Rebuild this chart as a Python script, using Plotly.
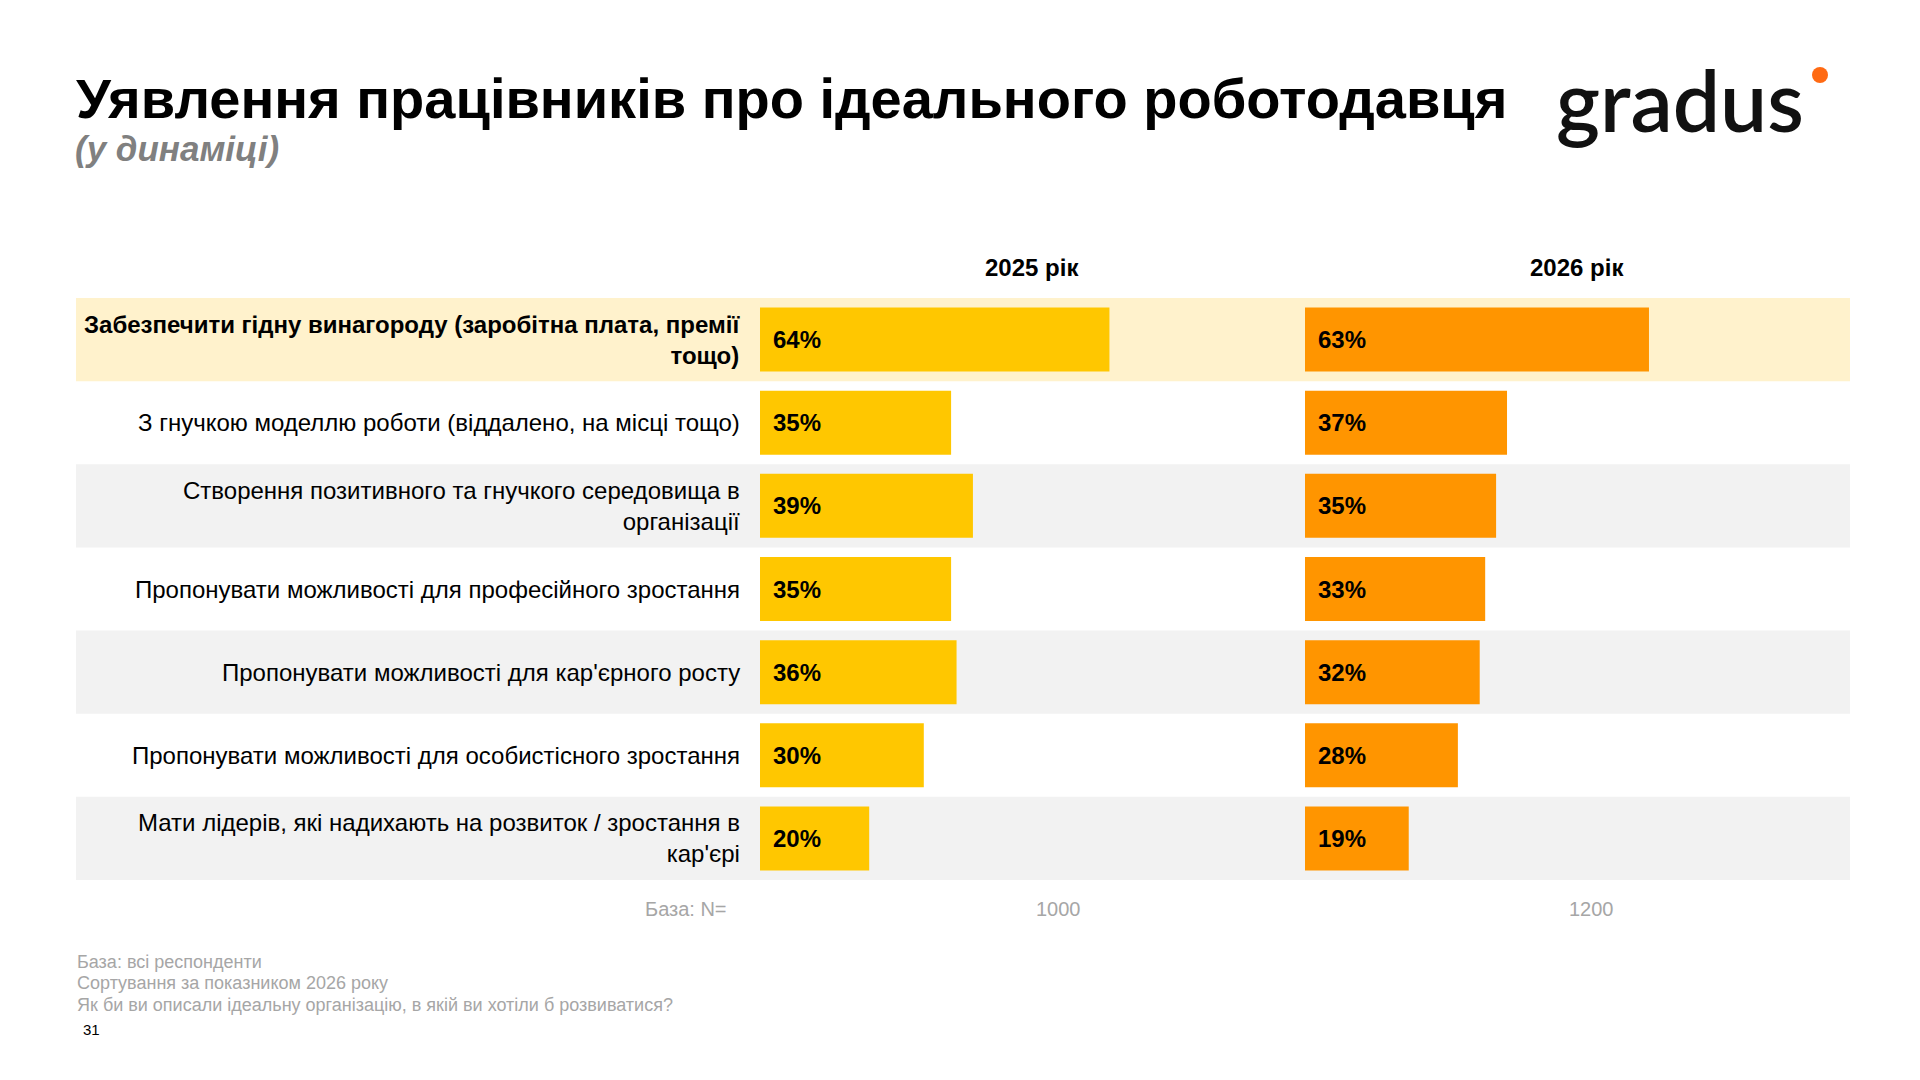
import plotly.graph_objects as go

# ---- data ----
categories = [
    "Забезпечити гідну винагороду (заробітна плата, премії<br>тощо)",
    "З гнучкою моделлю роботи (віддалено, на місці тощо)",
    "Створення позитивного та гнучкого середовища в<br>організації",
    "Пропонувати можливості для професійного зростання",
    "Пропонувати можливості для кар'єрного росту",
    "Пропонувати можливості для особистісного зростання",
    "Мати лідерів, які надихають на розвиток / зростання в<br>кар'єрі",
]
values_2025 = [64, 35, 39, 35, 36, 30, 20]
values_2026 = [63, 37, 35, 33, 32, 28, 19]
years = ["2025 рік", "2026 рік"]
base_n = ["1000", "1200"]
footnotes = [
    "База: всі респонденти",
    "Сортування за показником 2026 року",
    "Як би ви описали ідеальну організацію, в якій ви хотіли б розвиватися?",
]

W, H = 1920, 1080
FONT = "Liberation Sans, Arial, sans-serif"
YELLOW = "#FFC700"
ORANGE = "#FF9500"
HILITE = "#FFF2CC"
GRAY_BAND = "#F2F2F2"

def px(x):
    return x / W

def py(y):
    return 1 - y / H

SCALE = 5.46  # px per percent
ypos = list(range(len(categories)))

fig = go.Figure()
fig.add_trace(go.Bar(x=values_2025, y=ypos, orientation="h", width=0.77,
                     marker=dict(color=YELLOW, line=dict(width=0)),
                     xaxis="x", yaxis="y", hoverinfo="skip", showlegend=False))
fig.add_trace(go.Bar(x=values_2026, y=ypos, orientation="h", width=0.77,
                     marker=dict(color=ORANGE, line=dict(width=0)),
                     xaxis="x2", yaxis="y", hoverinfo="skip", showlegend=False))

shapes = []
for i in ypos:
    if i == 0:
        col = HILITE
    elif i % 2 == 0:
        col = GRAY_BAND
    else:
        col = None
    if col:
        shapes.append(dict(type="rect", xref="paper", yref="y",
                           x0=px(76), x1=px(1850), y0=i - 0.5, y1=i + 0.5,
                           fillcolor=col, line=dict(width=0), layer="below"))

# logo dot
shapes.append(dict(type="circle", xref="paper", yref="paper",
                   x0=px(1812), x1=px(1828), y0=py(83), y1=py(67),
                   fillcolor="#FF6A13", line=dict(width=0)))

ann = []
# row labels
for i, lab in enumerate(categories):
    text = f"<b>{lab}</b>" if i == 0 else lab
    ann.append(dict(x=px(742), xref="paper", y=i, yref="y", text=text,
                    xanchor="right", yanchor="middle", align="right",
                    showarrow=False, font=dict(family=FONT, size=24, color="#000000")))
# value labels
for i, v in enumerate(values_2025):
    ann.append(dict(x=0, xref="x", y=i, yref="y", text=f"<b>{v}%</b>", xshift=11,
                    xanchor="left", yanchor="middle", showarrow=False,
                    font=dict(family=FONT, size=24, color="#000000")))
for i, v in enumerate(values_2026):
    ann.append(dict(x=0, xref="x2", y=i, yref="y", text=f"<b>{v}%</b>", xshift=11,
                    xanchor="left", yanchor="middle", showarrow=False,
                    font=dict(family=FONT, size=24, color="#000000")))
# headers
for xc, t in zip([1032, 1577], years):
    ann.append(dict(x=px(xc), xref="paper", y=py(268), yref="paper", text=f"<b>{t}</b>",
                    xanchor="center", yanchor="middle", showarrow=False,
                    font=dict(family=FONT, size=24, color="#000000")))
# base N
ann.append(dict(x=px(729), xref="paper", y=py(909), yref="paper", text="База: N=",
                xanchor="right", yanchor="middle", showarrow=False,
                font=dict(family=FONT, size=20, color="#A6A6A6")))
for xc, t in zip([1058, 1591], base_n):
    ann.append(dict(x=px(xc), xref="paper", y=py(909), yref="paper", text=t,
                    xanchor="center", yanchor="middle", showarrow=False,
                    font=dict(family=FONT, size=20, color="#A6A6A6")))
# footnotes
for yc, t in zip([962, 983, 1005], footnotes):
    ann.append(dict(x=px(75), xref="paper", y=py(yc), yref="paper", text=t,
                    xanchor="left", yanchor="middle", showarrow=False,
                    font=dict(family=FONT, size=18, color="#A6A6A6")))
ann.append(dict(x=px(81), xref="paper", y=py(1029), yref="paper", text="31",
                xanchor="left", yanchor="middle", showarrow=False,
                font=dict(family=FONT, size=15, color="#000000")))
# title & subtitle
ann.append(dict(x=px(74), xref="paper", y=py(98), yref="paper",
                text="<b>Уявлення працівників про ідеального роботодавця</b>",
                xanchor="left", yanchor="middle", showarrow=False,
                font=dict(family=FONT, size=56, color="#000000")))
ann.append(dict(x=px(73), xref="paper", y=py(148), yref="paper",
                text="<b><i>(у динаміці)</i></b>",
                xanchor="left", yanchor="middle", showarrow=False,
                font=dict(family=FONT, size=35, color="#808080")))
# logo
ann.append(dict(x=px(1554), xref="paper", y=py(100), yref="paper",
                text="gradus", xanchor="left", yanchor="middle", showarrow=False,
                font=dict(family="Lato, Inter, sans-serif", size=84, color="#111111", weight=600)))

fig.update_layout(
    width=W, height=H,
    margin=dict(l=0, r=0, t=0, b=0),
    paper_bgcolor="#FFFFFF", plot_bgcolor="rgba(0,0,0,0)",
    barmode="overlay",
    shapes=shapes, annotations=ann,
    xaxis=dict(domain=[px(760), px(1300)], range=[0, 540 / SCALE], visible=False, fixedrange=True),
    xaxis2=dict(domain=[px(1305), px(1850)], range=[0, 545 / SCALE], visible=False,
                anchor="y", fixedrange=True),
    yaxis=dict(domain=[py(880), py(298)], range=[len(categories) - 0.5, -0.5], visible=False,
               fixedrange=True),
    showlegend=False,
)

fig.write_html("out.html")
